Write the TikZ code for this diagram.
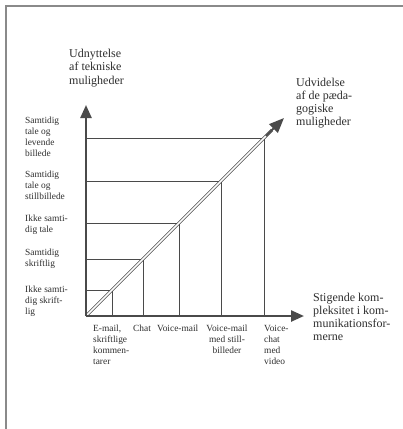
\documentclass[tikz,border=0pt]{standalone}
\usepackage{fontspec}
\setmainfont{Liberation Serif}
\usetikzlibrary{arrows.meta}
\definecolor{ink}{HTML}{2E2E2E}
\definecolor{lineink}{HTML}{4A4A4A}
\definecolor{framegray}{HTML}{8A8A8A}
\tikzset{
  axisline/.style={draw=lineink, line width=2.4pt, -{Triangle[length=13pt,width=11pt]}},
  gridline/.style={draw=lineink, line width=0.9pt},
  diagline/.style={draw=lineink, line width=0.7pt, double=white, double distance=1.5pt},
  diagtip/.style={draw=lineink, line width=2pt, -{Triangle[length=15pt,width=12pt]}},
  bigtext/.style={text=ink, font=\fontsize{12}{13.2}\selectfont, align=left, inner sep=0pt},
  smalltext/.style={text=ink, font=\fontsize{9.4}{11}\selectfont, align=left, inner sep=0pt},
  framelinestyle/.style={draw=framegray, line width=1.3pt}
}
\begin{document}
\begin{tikzpicture}[x=1pt,y=-1pt]
\useasboundingbox (0,0) rectangle (403,429);
\fill[white] (0,0) rectangle (403,429);
% frame
\coordinate (fbl) at (6,429);
\coordinate (ftl) at (6,6);
\coordinate (ftr) at (403,6);
\draw[framelinestyle] (fbl) -- (ftl) -- (ftr);
% axes
\coordinate (O) at (86,316);
\coordinate (ytip) at (86,105);
\coordinate (xtip) at (304,316);
\coordinate (dend) at (272,130);
\coordinate (dstart) at (266,136);
\coordinate (dtip) at (284,118);
% grid corners on diagonal
\coordinate (g1) at (112,290);
\coordinate (g2) at (143,259);
\coordinate (g3) at (179,223);
\coordinate (g4) at (221,181);
\coordinate (g5) at (264,138);
\foreach \g in {g1,g2,g3,g4,g5}{
  \draw[gridline] (O|-\g) -- (\g) -- (\g|-O);
}
\draw[diagline] (O) -- (dend);
\draw[diagtip] (dstart) -- (dtip);
\draw[axisline] (O) -- (ytip);
\draw[axisline] (O) -- (xtip);
% titles
\node[bigtext, anchor=west] (ytitle) at (69,68) {Udnyttelse\\af tekniske\\muligheder};
\node[bigtext, anchor=west] (dtitle) at (296,103) {Udvidelse\\af de pæda-\\gogiske\\muligheder};
\node[bigtext, anchor=west] (xtitle) at (313,317) {Stigende kom-\\pleksitet i kom-\\munikationsfor-\\merne};
% y labels
\node[smalltext, anchor=west] (yl5) at (25,137) {Samtidig\\tale og\\levende\\billede};
\node[smalltext, anchor=west] (yl4) at (25,185) {Samtidig\\tale og\\stillbillede};
\node[smalltext, anchor=west] (yl3) at (25,225) {Ikke samti-\\dig tale};
\node[smalltext, anchor=west] (yl2) at (25,259) {Samtidig\\skriftlig};
\node[smalltext, anchor=west] (yl1) at (25,301) {Ikke samti-\\dig skrift-\\lig};
% x labels
\node[smalltext, anchor=north west] (xl1) at (93,325) {E-mail,\\skriftlige\\kommen-\\tarer};
\node[smalltext, anchor=north west] (xl2) at (133,325) {Chat};
\node[smalltext, anchor=north west] (xl3) at (157,325) {Voice-mail};
\node[smalltext, anchor=north, align=center] (xl4) at (227,325) {Voice-mail\\med still-\\billeder};
\node[smalltext, anchor=north west] (xl5) at (264,325) {Voice-\\chat\\med\\video};
\end{tikzpicture}
\end{document}
